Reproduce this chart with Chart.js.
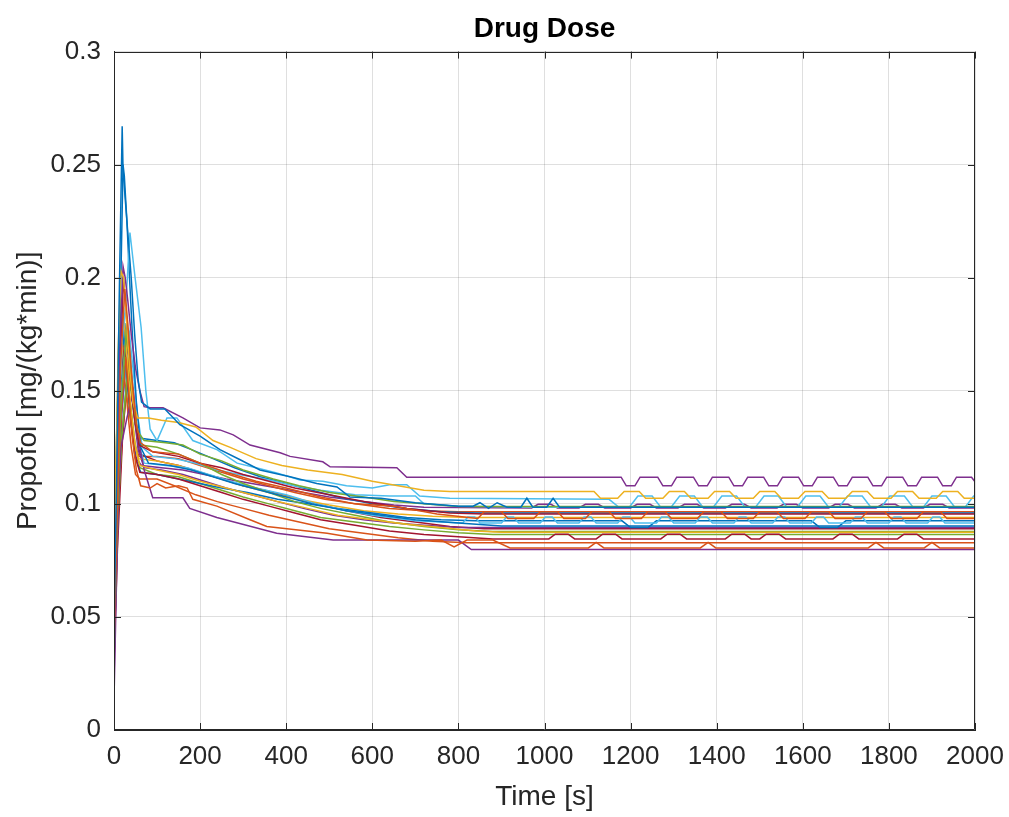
<!DOCTYPE html>
<html>
<head>
<meta charset="utf-8">
<script src="https://cdn.jsdelivr.net/npm/chart.js@4.4.1/dist/chart.umd.min.js"></script>
<style>
  html, body { margin: 0; padding: 0; background: #fff; }
  #wrap { width: 1009px; height: 817px; }
</style>
</head>
<body>
<div id="wrap"><canvas id="dose"></canvas></div>
<script>
// propofol dose per patient, [time s, mg/(kg*min)]
const s01 = [[0,.045],[6,.11],[12,.19],[19,.267],[21,.248],[26,.235],[32,.22],[40,.2],[48,.175],[56,.155],[64,.145],[84,.142],[118,.142],[153,.135],[200,.13],[246,.124],[293,.1195],[339,.115],[409,.112],[471,.109],[518,.1075],[548,.103],[620,.1025],[700,.1005],[800,.099],[834,.099],[850,.1005],[870,.098],[890,.1005],[913,.0985],[945,.0985],[959,.1025],[973,.0985],[1005,.0985],[1020,.1025],[1035,.0985],[2000,.0985]];
const s02 = [[0,.04],[8,.1],[15,.16],[25,.195],[32,.18],[42,.155],[52,.135],[62,.127],[90,.123],[150,.122],[200,.118],[260,.114],[330,.11],[400,.107],[480,.103],[560,.1],[650,.099],[750,.0955],[845,.0935],[860,.0965],[900,.0965],[915,.0935],[975,.0935],[990,.0965],[1030,.0965],[1045,.0935],[1095,.0935],[1110,.0965],[1150,.0965],[1165,.0935],[1225,.0935],[1240,.0965],[1280,.0965],[1295,.0935],[1355,.0935],[1370,.0965],[1410,.0965],[1425,.0935],[1485,.0935],[1500,.0965],[1540,.0965],[1555,.0935],[1605,.0935],[1620,.0965],[1660,.0965],[1675,.0935],[1735,.0935],[1750,.0965],[1790,.0965],[1805,.0935],[1865,.0935],[1880,.0965],[1920,.0965],[1935,.0935],[2000,.0935]];
const s03 = [[0,.05],[5,.12],[10,.17],[16,.203],[22,.2],[28,.185],[36,.16],[44,.145],[55,.138],[80,.138],[110,.137],[150,.136],[190,.134],[230,.128],[270,.125],[330,.12],[390,.117],[450,.115],[530,.113],[600,.11],[660,.108],[720,.106],[780,.1055],[1115,.1055],[1130,.1025],[1170,.1025],[1185,.1055],[1220,.1055],[1235,.1025],[1275,.1025],[1290,.1055],[1325,.1055],[1340,.1025],[1380,.1025],[1395,.1055],[1430,.1055],[1445,.1025],[1485,.1025],[1500,.1055],[1535,.1055],[1550,.1025],[1590,.1025],[1605,.1055],[1645,.1055],[1660,.1025],[1700,.1025],[1715,.1055],[1750,.1055],[1765,.1025],[1805,.1025],[1820,.1055],[1855,.1055],[1870,.1025],[1910,.1025],[1925,.1055],[1960,.1055],[1975,.1025],[2000,.1025]];
const s04 = [[0,.02],[5,.08],[12,.16],[21,.205],[26,.2],[32,.19],[40,.175],[50,.16],[60,.15],[70,.143],[84,.1425],[114,.1425],[160,.138],[200,.1336],[246,.1327],[277,.1305],[316,.126],[386,.1226],[409,.121],[485,.1186],[502,.1164],[657,.116],[680,.1118],[1178,.1118],[1190,.108],[1210,.108],[1222,.1118],[1263,.1118],[1275,.108],[1295,.108],[1307,.1118],[1346,.1118],[1358,.108],[1378,.108],[1390,.1118],[1428,.1118],[1440,.108],[1460,.108],[1472,.1118],[1509,.1118],[1521,.108],[1541,.108],[1553,.1118],[1590,.1118],[1602,.108],[1622,.108],[1634,.1118],[1671,.1118],[1683,.108],[1703,.108],[1715,.1118],[1751,.1118],[1763,.108],[1783,.108],[1795,.1118],[1832,.1118],[1844,.108],[1864,.108],[1876,.1118],[1913,.1118],[1925,.108],[1945,.108],[1957,.1118],[1992,.1118],[2000,.1098]];
const s05 = [[0,.03],[7,.09],[15,.14],[28,.175],[35,.165],[45,.145],[55,.132],[70,.128],[120,.127],[160,.126],[200,.122],[250,.119],[300,.115],[370,.111],[430,.108],[500,.105],[580,.103],[650,.101],[720,.1],[800,.0988],[2000,.0988]];
const s06 = [[0,.05],[8,.12],[18,.17],[28,.19],[37,.22],[49,.2],[63,.178],[74,.15],[84,.133],[100,.128],[123,.138],[146,.138],[183,.128],[239,.124],[286,.118],[330,.116],[378,.1137],[432,.1106],[485,.11],[540,.108],[600,.107],[640,.1085],[680,.1085],[710,.1035],[780,.1025],[1150,.102],[1173,.0985],[1197,.0985],[1217,.1035],[1250,.1035],[1270,.0985],[1294,.0985],[1314,.1035],[1348,.1035],[1368,.0985],[1392,.0985],[1412,.1035],[1446,.1035],[1466,.0985],[1490,.0985],[1510,.1035],[1543,.1035],[1563,.0985],[1587,.0985],[1607,.1035],[1640,.1035],[1660,.0985],[1684,.0985],[1704,.1035],[1738,.1035],[1758,.0985],[1782,.0985],[1802,.1035],[1836,.1035],[1856,.0985],[1880,.0985],[1900,.1035],[1933,.1035],[1953,.0985],[1977,.0985],[1997,.1035],[2000,.1035]];
const s07 = [[0,.035],[6,.1],[14,.16],[22,.2],[28,.185],[36,.16],[46,.14],[58,.126],[90,.123],[150,.121],[200,.118],[250,.116],[300,.113],[360,.11],[420,.107],[500,.104],[580,.101],[680,.098],[780,.096],[860,.0955],[2000,.0955]];
const s08 = [[0,.03],[7,.1],[14,.18],[21,.25],[24,.245],[30,.225],[36,.2],[44,.17],[52,.145],[62,.125],[80,.118],[130,.117],[180,.115],[230,.112],[280,.109],[340,.106],[400,.103],[460,.1],[540,.097],[620,.095],[700,.093],[800,.0915],[900,.0902],[2000,.0902]];
const s09 = [[0,.04],[8,.1],[16,.14],[27,.165],[34,.15],[42,.13],[52,.115],[62,.108],[84,.107],[100,.109],[120,.107],[150,.108],[170,.107],[183,.102],[239,.099],[316,.093],[355,.09],[495,.087],[588,.084],[700,.0835],[760,.084],[790,.081],[820,.084],[880,.084],[920,.0805],[1102,.0805],[1120,.083],[1138,.0805],[1362,.0805],[1380,.083],[1398,.0805],[1752,.0805],[1770,.083],[1788,.0805],[1882,.0805],[1900,.083],[1918,.0805],[2000,.0805]];
const s10 = [[0,.06],[6,.13],[12,.17],[18,.185],[24,.18],[32,.16],[40,.14],[50,.125],[60,.117],[100,.115],[150,.113],[200,.11],[260,.107],[320,.104],[380,.101],[450,.098],[520,.095],[600,.093],[680,.091],[760,.0895],[840,.088],[900,.0875],[2000,.0875]];
const s11 = [[0,.013],[4,.05],[10,.1],[16,.125],[30,.138],[45,.15],[55,.13],[70,.115],[90,.1027],[160,.1027],[176,.098],[239,.094],[378,.087],[509,.084],[800,.084],[830,.0798],[2000,.0798]];
const s12 = [[0,.03],[8,.09],[18,.13],[33,.16],[40,.15],[50,.135],[62,.126],[100,.125],[150,.122],[200,.118],[250,.113],[300,.109],[360,.105],[420,.101],[480,.098],[560,.095],[640,.092],[720,.09],[800,.0885],[880,.0878],[2000,.0878]];
const s13 = [[0,.045],[8,.11],[18,.15],[30,.18],[38,.165],[46,.145],[56,.128],[70,.118],[120,.117],[170,.116],[220,.113],[270,.11],[330,.107],[400,.104],[470,.1],[540,.097],[600,.095],[700,.0925],[810,.0915],[822,.0942],[838,.0942],[850,.0915],[900,.0915],[912,.0942],[928,.0942],[940,.0915],[990,.0915],[1002,.0942],[1018,.0942],[1030,.0915],[1080,.0915],[1092,.0942],[1108,.0942],[1120,.0915],[1170,.0915],[1182,.0942],[1198,.0942],[1210,.0915],[1260,.0915],[1272,.0942],[1288,.0942],[1300,.0915],[1350,.0915],[1362,.0942],[1378,.0942],[1390,.0915],[1440,.0915],[1452,.0942],[1468,.0942],[1480,.0915],[1530,.0915],[1542,.0942],[1558,.0942],[1570,.0915],[1620,.0915],[1632,.0942],[1648,.0942],[1660,.0915],[1710,.0915],[1722,.0942],[1738,.0942],[1750,.0915],[1800,.0915],[1812,.0942],[1828,.0942],[1840,.0915],[1890,.0915],[1902,.0942],[1918,.0942],[1930,.0915],[2000,.0915]];
const s14 = [[0,.04],[7,.1],[15,.14],[24,.17],[30,.16],[38,.14],[48,.122],[60,.114],[100,.113],[150,.111],[200,.108],[250,.105],[300,.102],[360,.099],[420,.096],[480,.093],[560,.0905],[640,.088],[720,.0865],[800,.0855],[880,.0845],[1010,.0845],[1025,.0866],[1055,.0866],[1070,.0845],[1120,.0845],[1135,.0866],[1165,.0866],[1180,.0845],[1270,.0845],[1285,.0866],[1315,.0866],[1330,.0845],[1420,.0845],[1435,.0866],[1465,.0866],[1480,.0845],[1500,.0845],[1515,.0866],[1545,.0866],[1560,.0845],[1670,.0845],[1685,.0866],[1715,.0866],[1730,.0845],[1820,.0845],[1835,.0866],[1865,.0866],[1880,.0845],[2000,.0845]];
const s15 = [[0,.05],[5,.12],[11,.17],[17,.19],[23,.175],[30,.155],[40,.135],[50,.12],[62,.114],[100,.113],[150,.111],[200,.109],[250,.107],[310,.105],[380,.102],[450,.1],[520,.098],[600,.096],[680,.094],[760,.093],[840,.0925],[1180,.0925],[1200,.0895],[1240,.0895],[1260,.0925],[1620,.0925],[1640,.0895],[1680,.0895],[1700,.0925],[2000,.0925]];
const s16 = [[0,.035],[7,.09],[14,.13],[22,.16],[30,.145],[40,.125],[50,.113],[60,.111],[100,.111],[140,.108],[190,.104],[240,.101],[300,.098],[360,.095],[430,.092],[500,.089],[580,.087],[660,.085],[740,.0835],[820,.0828],[2000,.0828]];
const s17 = [[0,.05],[6,.11],[13,.15],[20,.17],[26,.165],[34,.145],[44,.13],[56,.12],[100,.119],[150,.117],[200,.114],[250,.111],[300,.108],[360,.105],[430,.102],[500,.0995],[580,.097],[660,.0955],[740,.0945],[820,.094],[2000,.094]];
const s18 = [[0,.03],[8,.09],[18,.14],[30,.17],[38,.16],[46,.14],[56,.124],[70,.116],[110,.115],[160,.113],[210,.11],[260,.107],[320,.104],[380,.101],[440,.098],[510,.095],[580,.093],[650,.0915],[720,.0905],[800,.0895],[2000,.0895]];
const s19 = [[0,.04],[8,.09],[18,.13],[30,.155],[38,.145],[48,.128],[60,.116],[100,.113],[150,.112],[200,.109],[250,.106],[300,.103],[360,.1],[420,.097],[480,.094],[560,.092],[640,.09],[720,.0885],[800,.0872],[880,.0865],[2000,.0865]];
const s20 = [[0,.04],[8,.1],[18,.14],[28,.16],[36,.175],[44,.16],[54,.14],[66,.125],[90,.121],[140,.12],[190,.118],[240,.115],[290,.113],[350,.111],[420,.108],[480,.106],[560,.104],[640,.1035],[700,.1035],[720,.1],[800,.099],[1000,.0985],[2000,.0985]];
const s21 = [[0,.03],[8,.08],[20,.13],[35,.165],[42,.155],[50,.135],[60,.122],[100,.119],[150,.117],[200,.114],[250,.111],[300,.108],[350,.106],[410,.103],[470,.1],[540,.097],[620,.094],[700,.092],[780,.09],[860,.089],[2000,.089]];
const s22 = [[0,.05],[7,.11],[15,.15],[25,.18],[32,.165],[40,.15],[50,.135],[62,.129],[100,.128],[140,.127],[180,.124],[230,.12],[280,.116],[340,.112],[400,.109],[460,.106],[520,.103],[600,.1],[680,.098],[760,.0965],[840,.096],[2000,.096]];
const s23 = [[0,.04],[8,.09],[18,.125],[28,.15],[36,.14],[46,.127],[58,.121],[100,.121],[150,.12],[200,.117],[250,.114],[300,.111],[360,.108],[420,.105],[490,.102],[560,.1],[640,.098],[720,.097],[800,.0965],[2000,.0965]];
const s24 = [[0,.035],[7,.1],[15,.14],[26,.16],[33,.15],[42,.132],[52,.12],[64,.117],[110,.116],[160,.115],[210,.113],[260,.111],[320,.109],[380,.107],[440,.105],[500,.103],[580,.101],[650,.0995],[720,.0985],[970,.0982],[985,.0998],[1015,.0998],[1030,.0982],[1080,.0982],[1095,.0998],[1125,.0998],[1140,.0982],[1200,.0982],[1215,.0998],[1245,.0998],[1260,.0982],[1310,.0982],[1325,.0998],[1355,.0998],[1370,.0982],[1420,.0982],[1435,.0998],[1465,.0998],[1480,.0982],[1540,.0982],[1555,.0998],[1585,.0998],[1600,.0982],[1660,.0982],[1675,.0998],[1705,.0998],[1720,.0982],[1770,.0982],[1785,.0998],[1815,.0998],[1830,.0982],[1880,.0982],[1895,.0998],[1925,.0998],[1940,.0982],[2000,.0982]];

const BLUE = '#0072BD', ORANGE = '#D95319', YELLOW = '#EDB120', PURPLE = '#7E2F8E',
      GREEN = '#77AC30', LBLUE = '#4DBEEE', DRED = '#A2142F';

const series = [s01, s02, s03, s04, s05, s06, s07, s08, s09, s10, s11, s12,
                s13, s14, s15, s16, s17, s18, s19, s20, s21, s22, s23, s24];
const seriesColors = [BLUE, ORANGE, YELLOW, PURPLE, GREEN, LBLUE, DRED, BLUE, ORANGE, YELLOW, PURPLE, GREEN,
                      LBLUE, DRED, BLUE, ORANGE, YELLOW, PURPLE, GREEN, LBLUE, DRED, BLUE, ORANGE, PURPLE];

const xTicks = [0, 200, 400, 600, 800, 1000, 1200, 1400, 1600, 1800, 2000];
const yTicks = [0, 0.05, 0.1, 0.15, 0.2, 0.25, 0.3];

const AXIS = '#262626';
const FONT = '"Liberation Sans", Arial, Helvetica, sans-serif';

// matlab style box with inward ticks
const axesBox = {
    id: 'axesBox',
    afterDatasetsDraw: function (chart) {
        const ctx = chart.ctx;
        const a = chart.chartArea;
        const x = chart.scales.x, y = chart.scales.y;
        const len = 7;
        ctx.save();
        ctx.strokeStyle = AXIS;
        ctx.lineWidth = 1;
        ctx.beginPath();
        ctx.rect(Math.round(a.left) + 0.5, Math.round(a.top) + 0.5,
                 Math.round(a.right - a.left) - 1, Math.round(a.bottom - a.top) - 1);
        for (let t of xTicks) {
            const px = Math.round(x.getPixelForValue(t)) + 0.5;
            ctx.moveTo(px, a.bottom); ctx.lineTo(px, a.bottom - len);
            ctx.moveTo(px, a.top); ctx.lineTo(px, a.top + len);
        }
        for (let t of yTicks) {
            const py = Math.round(y.getPixelForValue(t)) + 0.5;
            ctx.moveTo(a.left, py); ctx.lineTo(a.left + len, py);
            ctx.moveTo(a.right, py); ctx.lineTo(a.right - len, py);
        }
        ctx.stroke();
        ctx.restore();
    }
};

const datasets = series.map(function (s, i) {
    return {
        data: s.map(p => ({ x: p[0], y: p[1] })),
        borderColor: seriesColors[i],
        borderWidth: 1.5,
        pointRadius: 0,
        tension: 0,
        fill: false
    };
});

const doseChart = new Chart(document.getElementById('dose').getContext('2d'), {
    type: 'line',
    data: { datasets: datasets },
    plugins: [axesBox],
    options: {
        responsive: true,
        maintainAspectRatio: false,
        animation: false,
        layout: { padding: { left: 0, right: 34, top: 0, bottom: 0 } },
        plugins: {
            legend: { display: false },
            tooltip: { enabled: false },
            title: {
                display: true,
                text: 'Drug Dose',
                fullSize: false,
                color: '#000',
                font: { family: FONT, size: 28, weight: 'bold' },
                padding: { top: 12, bottom: 6 }
            }
        },
        scales: {
            x: {
                type: 'linear',
                min: 0,
                max: 2000,
                afterBuildTicks: function (scale) { scale.ticks = xTicks.map(v => ({ value: v })); },
                afterFit: function (scale) { scale.height = 87; scale.paddingLeft = 0; scale.paddingRight = 0; },
                ticks: { color: AXIS, font: { family: FONT, size: 26 }, padding: 11, maxRotation: 0, callback: v => String(v) },
                grid: { color: 'rgba(38,38,38,0.15)', drawTicks: false },
                border: { color: AXIS },
                title: { display: true, text: 'Time [s]', color: AXIS, font: { family: FONT, size: 28 }, padding: { top: 0, bottom: 3 } }
            },
            y: {
                type: 'linear',
                min: 0,
                max: 0.3,
                afterBuildTicks: function (scale) { scale.ticks = yTicks.map(v => ({ value: v })); },
                afterFit: function (scale) { scale.width = 114; scale.paddingTop = 0; scale.paddingBottom = 0; },
                ticks: { color: AXIS, font: { family: FONT, size: 26 }, padding: 13, callback: v => String(+v.toFixed(2)) },
                grid: { color: 'rgba(38,38,38,0.15)', drawTicks: false },
                border: { color: AXIS },
                title: { display: true, text: 'Propofol [mg/(kg*min)]', color: AXIS, font: { family: FONT, size: 28 }, padding: { top: 11, bottom: 0 } }
            }
        }
    }
});
</script>
</body>
</html>
